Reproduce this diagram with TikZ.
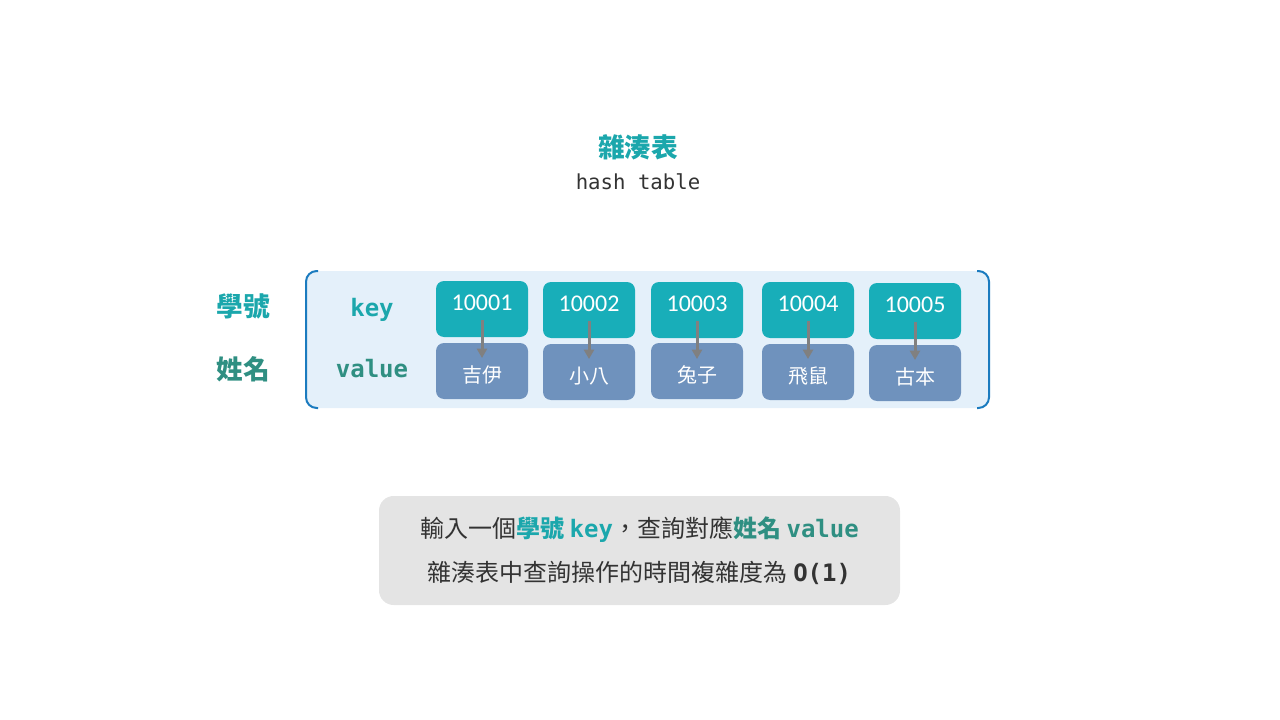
\documentclass[tikz,border=0pt]{standalone}
\usepackage{fontspec}
\setmainfont{Carlito}
\newfontfamily\cjk{Noto Sans CJK TC}
\newfontfamily\mono{DejaVu Sans Mono}
\usetikzlibrary{arrows.meta}
\definecolor{keyteal}{HTML}{18AEB9}
\definecolor{titleteal}{HTML}{1BA7AC}
\definecolor{valteal}{HTML}{2F8F82}
\definecolor{valblue}{HTML}{6F92BD}
\definecolor{panel}{HTML}{E4F0FA}
\definecolor{bracket}{HTML}{1B7BBF}
\definecolor{note}{HTML}{E4E4E4}
\definecolor{ink}{HTML}{333333}
\tikzset{
    keybox/.style={fill=keyteal, rounded corners=6pt, minimum width=69pt, minimum height=42pt,
        text=white, font=\fontsize{18}{20}\selectfont, text height=11.5pt, text depth=9pt},
    valbox/.style={fill=valblue, rounded corners=6pt, minimum width=69pt, minimum height=42pt,
        text=white, font=\cjk\fontsize{15}{18}\selectfont, text height=19pt, text depth=2pt},
    link/.style={-{Triangle[width=7.5pt,length=7pt]}, draw=gray, fill=gray, line width=2.25pt}
}
\begin{document}
\begin{tikzpicture}[x=0.75pt, y=-0.75pt]
    \useasboundingbox (0,0) rectangle (1280,720);
    % title
    \node[text=titleteal, font=\cjk\bfseries\fontsize{20}{24}\selectfont] at (638,147) (title) {雜湊表};
    \node[text=ink, font=\mono\fontsize{15.5}{18}\selectfont] at (638,182) (subtitle) {hash table};
    % table panel
    \fill[panel, rounded corners=8pt] (306,271) rectangle (989,408);
    \draw[bracket, line width=1.5pt, rounded corners=8pt] (318,271) -- (306,271) -- (306,408) -- (318,408);
    \draw[bracket, line width=1.5pt, rounded corners=8pt] (977,271) -- (989,271) -- (989,408) -- (977,408);
    % row labels
    \node[text=titleteal, font=\cjk\bfseries\fontsize{20}{24}\selectfont] at (243,306) (rowkey) {學號};
    \node[text=valteal, font=\cjk\bfseries\fontsize{20}{24}\selectfont] at (243,369) (rowval) {姓名};
    \node[text=titleteal, font=\mono\bfseries\fontsize{18}{20}\selectfont] at (372,310) (keylbl) {key};
    \node[text=valteal, font=\mono\bfseries\fontsize{18}{20}\selectfont] at (372,369) (vallbl) {value};
    % key boxes
    \node[keybox] at (482,309) (k1) {10001};
    \node[keybox] at (589,310) (k2) {10002};
    \node[keybox] at (697,310) (k3) {10003};
    \node[keybox] at (808,310) (k4) {10004};
    \node[keybox] at (915,311) (k5) {10005};
    % value boxes
    \node[valbox] at (482,371) (v1) {吉伊};
    \node[valbox] at (589,372) (v2) {小八};
    \node[valbox] at (697,371) (v3) {兔子};
    \node[valbox] at (808,372) (v4) {飛鼠};
    \node[valbox] at (915,373) (v5) {古本};
    % arrow ends
    \coordinate (s1) at (482,320); \coordinate (e1) at (482,358);
    \coordinate (s2) at (589,321); \coordinate (e2) at (589,359);
    \coordinate (s3) at (697,321); \coordinate (e3) at (697,359);
    \coordinate (s4) at (808,321); \coordinate (e4) at (808,359);
    \coordinate (s5) at (915,322); \coordinate (e5) at (915,360);
    \draw[link] (s1) -- (e1);
    \draw[link] (s2) -- (e2);
    \draw[link] (s3) -- (e3);
    \draw[link] (s4) -- (e4);
    \draw[link] (s5) -- (e5);
    % note
    \node[fill=note, rounded corners=11pt, minimum width=390.75pt, minimum height=81.75pt] at (639.5,550.5) (notebox) {};
    \node[text=ink, font=\cjk\fontsize{18}{33}\selectfont, align=center] at (639.5,551) (notetext)
        {輸入一個{\color{titleteal}\bfseries 學號 {\mono key}}，查詢對應{\color{valteal}\bfseries 姓名 {\mono value}}\\
         雜湊表中查詢操作的時間複雜度為 {\mono\bfseries O(1)}};
\end{tikzpicture}
\end{document}
